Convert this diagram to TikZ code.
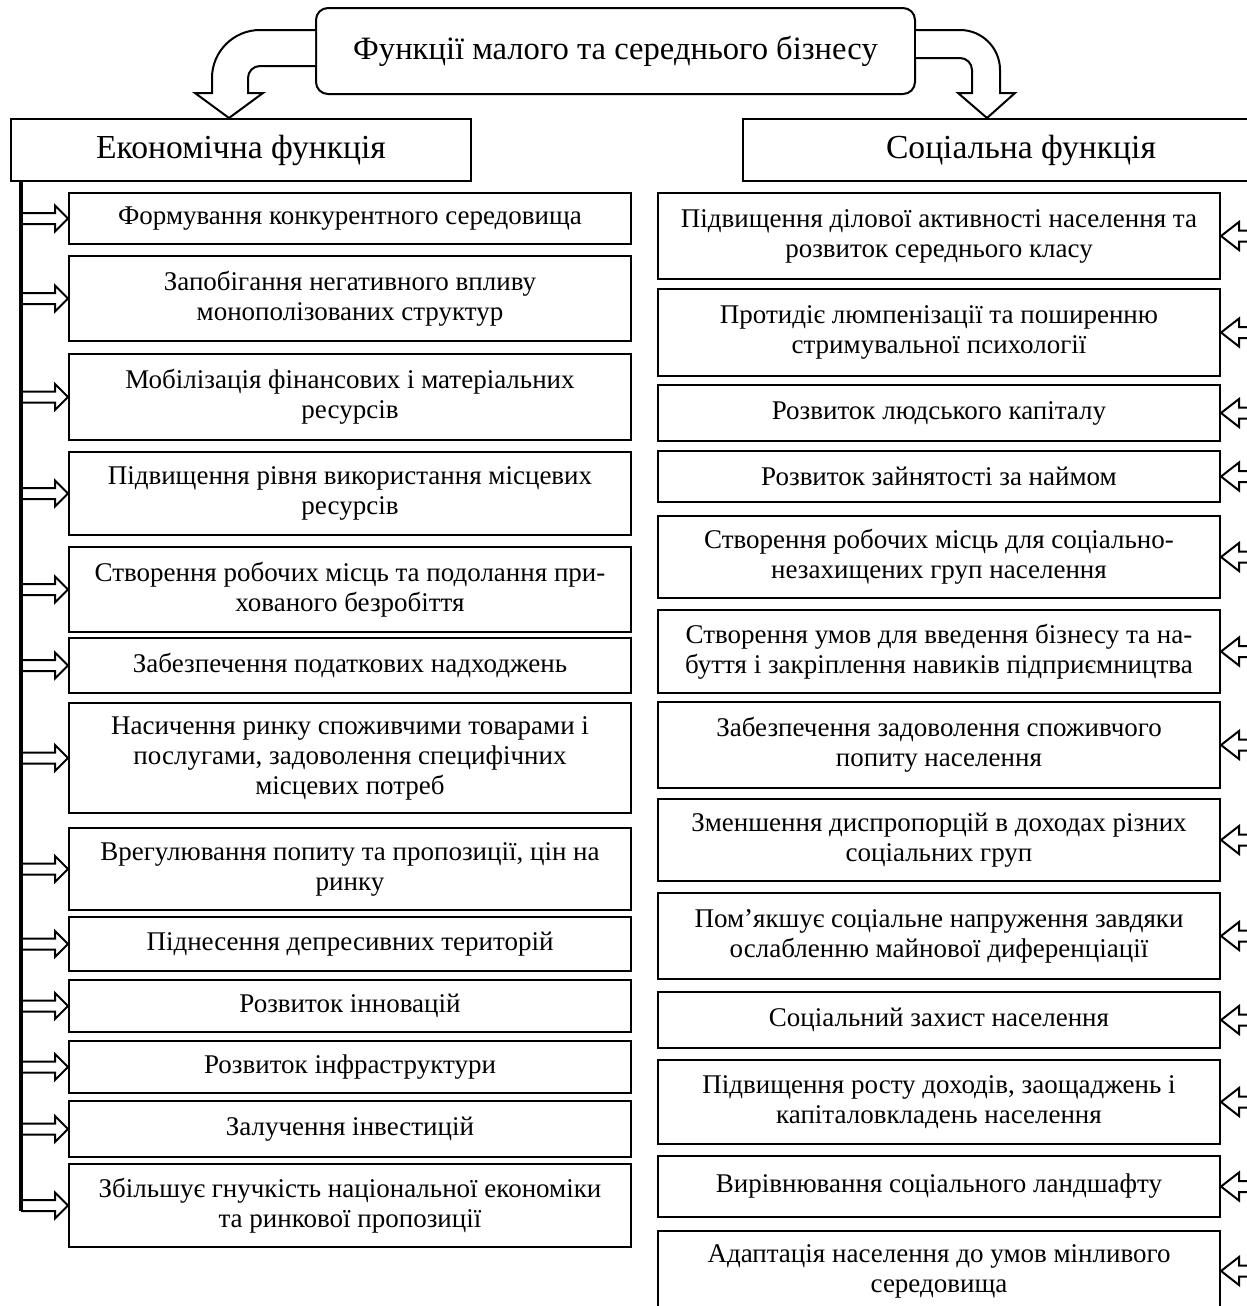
\documentclass[tikz,border=0pt]{standalone}
\usepackage{fontspec}
\setmainfont{Liberation Serif}
\usetikzlibrary{calc}
\tikzset{
  fbox/.style = {draw, line width=1pt, align=center, inner sep=0pt, anchor=north west,
    font=\fontsize{13.5}{15}\selectfont},
  ebox/.style = {fbox, minimum width=281pt},
  head/.style = {draw, line width=1pt, align=center, inner sep=0pt,
    font=\fontsize{16.3}{18}\selectfont},
  blockr/.style = {line width=1pt, to path={let \p1=(\tikztostart), \p2=(\tikztotarget) in
      (\x1,\y1+2.75pt) -- (\x2-6.5pt,\y1+2.75pt) -- (\x2-6.5pt,\y1+6.5pt) -- (\x2,\y2)
      -- (\x2-6.5pt,\y1-6.5pt) -- (\x2-6.5pt,\y1-2.75pt) -- (\x1,\y1-2.75pt)}},
  blockl/.style = {line width=1pt, to path={let \p1=(\tikztostart), \p2=(\tikztotarget) in
      (\x1,\y1+2.75pt) -- (\x2+9pt,\y1+2.75pt) -- (\x2+9pt,\y1+7pt) -- (\x2,\y2)
      -- (\x2+9pt,\y1-7pt) -- (\x2+9pt,\y1-2.75pt) -- (\x1,\y1-2.75pt)}},
  bigarrow/.style = {line width=1pt, fill=white, line join=miter}
}

\begin{document}
\begin{tikzpicture}[x=0.5pt, y=-0.5pt]

  \useasboundingbox (0,0) rectangle (1247,1306);
  \clip (0,0) rectangle (1247,1306);

  % Top
  \node[head, rounded corners=6pt, minimum width=299.5pt, minimum height=43pt] (hdr) at (615.5,51)
    {Функції малого та середнього бізнесу};
  \node[head, anchor=north west, minimum width=230pt, minimum height=31pt,
    font=\fontsize{16.8}{18}\selectfont] (eco) at (10,118) {Економічна функція};
  \node[head, anchor=north west, minimum width=278pt, minimum height=31pt,
    font=\fontsize{16.8}{18}\selectfont] (soc) at (742,118) {Соціальна функція};

  % Curved arrows
  \draw[bigarrow] (hdr.west |- 0,30) -- (260,30) arc[start angle=90, end angle=180, radius=24pt]
    -- (212,93) -- (195,93) -- (eco.north -| 229,0) -- (263,93) -- (248,93) -- (248,78)
    arc[start angle=180, end angle=90, radius=6pt] -- (hdr.west |- 0,66);
  \draw[bigarrow] (hdr.east |- 0,30) -- (960,30) arc[start angle=90, end angle=0, radius=20pt]
    -- (1000,93) -- (1015,93) -- (soc.north -| 987,0) -- (958,93) -- (972,93) -- (972,70)
    arc[start angle=0, end angle=90, radius=6pt] -- (hdr.east |- 0,58);

  % Economic function
  \node[ebox, minimum height=25.5pt] (e1) at (68,192) {Формування конкурентного середовища};
  \node[ebox, minimum height=42.5pt] (e2) at (68,255) {Запобігання негативного впливу\\монополізованих структур};
  \node[ebox, minimum height=43pt] (e3) at (68,353) {Мобілізація фінансових і матеріальних\\ресурсів};
  \node[ebox, minimum height=41.5pt] (e4) at (68,451) {Підвищення рівня використання місцевих\\ресурсів};
  \node[ebox, minimum height=42.5pt] (e5) at (68,546) {Створення робочих місць та подолання при-\\хованого безробіття};
  \node[ebox, minimum height=27.5pt] (e6) at (68,637) {Забезпечення податкових надходжень};
  \node[ebox, minimum height=55pt] (e7) at (68,702) {Насичення ринку споживчими товарами і\\послугами, задоволення специфічних\\місцевих потреб};
  \node[ebox, minimum height=41pt] (e8) at (68,827) {Врегулювання попиту та пропозиції, цін на\\ринку};
  \node[ebox, minimum height=27pt] (e9) at (68,916) {Піднесення депресивних територій};
  \node[ebox, minimum height=26pt] (e10) at (68,979) {Розвиток інновацій};
  \node[ebox, minimum height=26pt] (e11) at (68,1040) {Розвиток інфраструктури};
  \node[ebox, minimum height=28pt] (e12) at (68,1100) {Залучення інвестицій};
  \node[ebox, minimum height=41.5pt] (e13) at (68,1163) {Збільшує гнучкість національної економіки\\та ринкової пропозиції};

  \coordinate (bar) at (21,0);
  \draw[line width=2pt] (eco.south -| bar) -- ($(bar |- e13.west)+(0,-2.75pt)$);
  \foreach \i in {1,...,13}
    \draw[blockr] (bar |- e\i.west) to (e\i.west);

  % Social function
  \node[ebox, minimum height=43pt] (s1) at (657,192) {Підвищення ділової активності населення та\\розвиток середнього класу};
  \node[ebox, minimum height=43.5pt] (s2) at (657,288) {Протидіє люмпенізації та поширенню\\стримувальної психології};
  \node[ebox, minimum height=28pt] (s3) at (657,384) {Розвиток людського капіталу};
  \node[ebox, minimum height=25.5pt] (s4) at (657,450) {Розвиток зайнятості за наймом};
  \node[ebox, minimum height=41pt] (s5) at (657,515) {Створення робочих місць для соціально-\\незахищених груп населення};
  \node[ebox, minimum height=41.5pt] (s6) at (657,609) {Створення умов для введення бізнесу та на-\\буття і закріплення навиків підприємництва};
  \node[ebox, minimum height=43pt] (s7) at (657,701) {Забезпечення задоволення споживчого\\попиту населення};
  \node[ebox, minimum height=41pt] (s8) at (657,798) {Зменшення диспропорцій в доходах різних\\соціальних груп};
  \node[ebox, minimum height=43pt] (s9) at (657,892) {Пом’якшує соціальне напруження завдяки\\ослабленню майнової диференціації};
  \node[ebox, minimum height=28pt] (s10) at (657,991) {Соціальний захист населення};
  \node[ebox, minimum height=42pt] (s11) at (657,1059) {Підвищення росту доходів, заощаджень і\\капіталовкладень населення};
  \node[ebox, minimum height=30.5pt] (s12) at (657,1155) {Вирівнювання соціального ландшафту};
  \node[ebox, minimum height=40pt] (s13) at (657,1230) {Адаптація населення до умов мінливого\\середовища};

  \coordinate (edge) at (1256,0);
  \foreach \i in {1,...,13}
    \draw[blockl] (edge |- s\i.east) to (s\i.east);

\end{tikzpicture}
\end{document}
